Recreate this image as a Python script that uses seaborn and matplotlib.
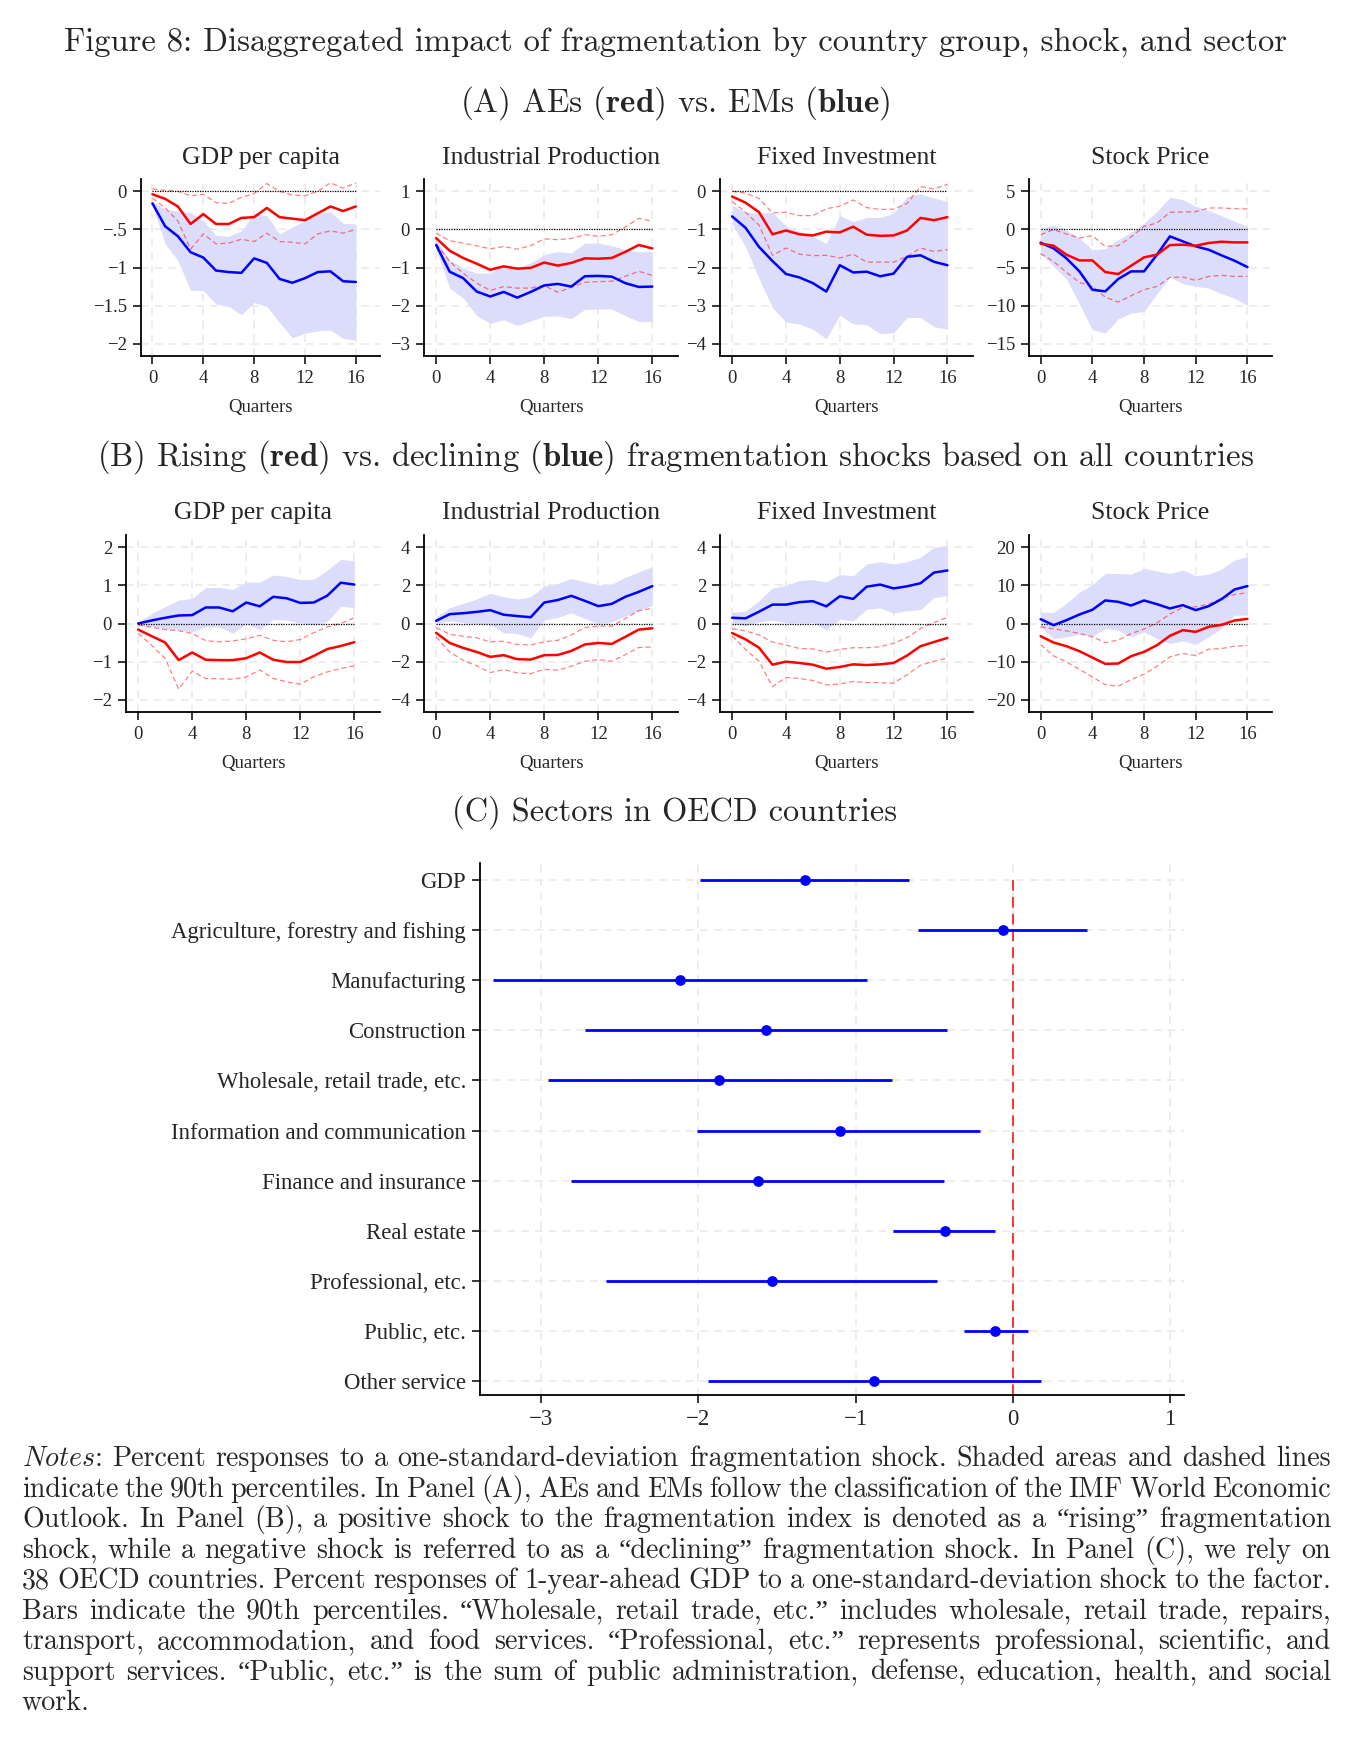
import numpy as np
import pandas as pd
import matplotlib
matplotlib.use("Agg")
import matplotlib.pyplot as plt
import seaborn as sns
from matplotlib.ticker import FuncFormatter

# ---------------- data ----------------
QUARTERS = np.arange(17)

# Panel A: AEs (red) vs EMs (blue)
a_gdp_red = [-0.04, -0.10, -0.20, -0.43, -0.30, -0.43, -0.43, -0.35, -0.34, -0.22, -0.34, -0.36, -0.38, -0.29, -0.20, -0.26, -0.20]
a_gdp_red_hi = [0.03, 0.01, 0.00, -0.06, -0.04, -0.15, -0.16, -0.08, -0.03, 0.10, 0.00, -0.05, -0.06, 0.00, 0.11, 0.04, 0.11]
a_gdp_red_lo = [-0.09, -0.22, -0.39, -0.76, -0.56, -0.69, -0.68, -0.63, -0.66, -0.55, -0.66, -0.67, -0.69, -0.56, -0.52, -0.55, -0.50]
a_gdp_blue = [-0.16, -0.46, -0.59, -0.80, -0.87, -1.04, -1.06, -1.07, -0.88, -0.94, -1.15, -1.20, -1.14, -1.06, -1.05, -1.18, -1.19]
a_gdp_blue_hi = [-0.13, -0.24, -0.26, -0.28, -0.39, -0.58, -0.59, -0.52, -0.29, -0.32, -0.56, -0.47, -0.39, -0.29, -0.27, -0.42, -0.43]
a_gdp_blue_lo = [-0.19, -0.69, -0.91, -1.30, -1.30, -1.48, -1.51, -1.62, -1.46, -1.51, -1.72, -1.92, -1.86, -1.83, -1.82, -1.93, -1.95]

a_ip_red = [-0.23, -0.56, -0.75, -0.90, -1.06, -0.97, -1.03, -1.01, -0.87, -0.95, -0.88, -0.76, -0.77, -0.75, -0.59, -0.41, -0.50]
a_ip_red_hi = [-0.10, -0.30, -0.36, -0.43, -0.51, -0.45, -0.52, -0.43, -0.25, -0.27, -0.24, -0.14, -0.18, -0.14, 0.06, 0.29, 0.21]
a_ip_red_lo = [-0.38, -0.84, -1.15, -1.41, -1.60, -1.50, -1.54, -1.54, -1.47, -1.65, -1.52, -1.39, -1.37, -1.36, -1.23, -1.10, -1.21]
a_ip_blue = [-0.41, -1.11, -1.28, -1.63, -1.76, -1.64, -1.79, -1.64, -1.47, -1.43, -1.50, -1.23, -1.22, -1.24, -1.41, -1.51, -1.50]
a_ip_blue_hi = [-0.27, -0.80, -1.01, -1.15, -1.15, -0.93, -1.01, -0.88, -0.66, -0.58, -0.62, -0.36, -0.36, -0.43, -0.53, -0.59, -0.58]
a_ip_blue_lo = [-0.53, -1.54, -1.80, -2.26, -2.46, -2.37, -2.52, -2.40, -2.28, -2.27, -2.34, -2.10, -2.09, -2.09, -2.26, -2.42, -2.42]

a_fi_red = [-0.14, -0.30, -0.55, -1.13, -1.03, -1.13, -1.16, -1.06, -1.08, -0.93, -1.14, -1.17, -1.16, -1.03, -0.70, -0.76, -0.68]
a_fi_red_hi = [0.00, -0.05, -0.19, -0.57, -0.55, -0.64, -0.64, -0.46, -0.39, -0.23, -0.43, -0.48, -0.47, -0.32, 0.12, 0.06, 0.18]
a_fi_red_lo = [-0.27, -0.55, -0.89, -1.68, -1.49, -1.65, -1.69, -1.68, -1.75, -1.65, -1.86, -1.86, -1.86, -1.71, -1.49, -1.58, -1.53]
a_fi_blue = [-0.66, -0.96, -1.46, -1.83, -2.17, -2.26, -2.41, -2.63, -1.94, -2.13, -2.11, -2.23, -2.16, -1.72, -1.68, -1.85, -1.94]
a_fi_blue_hi = [-0.37, -0.55, -0.58, -0.55, -0.92, -1.06, -1.19, -1.37, -0.64, -0.80, -0.69, -0.69, -0.58, -0.14, -0.07, -0.18, -0.27]
a_fi_blue_lo = [-0.85, -1.46, -2.29, -3.05, -3.43, -3.48, -3.62, -3.87, -3.25, -3.48, -3.50, -3.73, -3.71, -3.31, -3.31, -3.55, -3.62]

a_sp_red = [-1.88, -2.14, -3.32, -4.07, -4.07, -5.60, -5.86, -4.77, -3.67, -3.32, -2.06, -2.01, -2.14, -1.79, -1.62, -1.71, -1.71]
a_sp_red_hi = [-0.70, -0.04, -0.61, -1.14, -0.83, -2.23, -2.14, -1.00, 0.39, 0.83, 2.23, 2.27, 2.32, 2.80, 2.80, 2.71, 2.67]
a_sp_red_lo = [-3.19, -4.20, -5.64, -6.95, -7.48, -8.88, -9.53, -8.70, -7.91, -7.48, -6.30, -6.25, -6.69, -6.17, -6.03, -6.17, -6.17]
a_sp_blue = [-1.75, -2.49, -3.80, -5.51, -7.91, -8.13, -6.51, -5.51, -5.51, -3.32, -0.92, -1.57, -2.23, -2.67, -3.41, -4.11, -4.94]
a_sp_blue_hi = [0.17, 0.52, -0.13, -1.14, -2.67, -2.54, -1.36, -0.39, 0.83, 2.36, 4.20, 3.89, 3.02, 2.45, 1.79, 1.05, 0.39]
a_sp_blue_lo = [-3.10, -4.85, -6.51, -9.75, -13.16, -13.60, -11.72, -10.97, -10.76, -8.44, -6.25, -7.13, -7.48, -7.70, -8.44, -9.01, -9.97]

# Panel B: rising (red) vs declining (blue) shocks
b_gdp_red = [-0.16, -0.33, -0.50, -0.96, -0.76, -0.95, -0.96, -0.96, -0.91, -0.76, -0.95, -1.01, -1.01, -0.85, -0.67, -0.59, -0.49]
b_gdp_red_hi = [-0.04, -0.10, -0.16, -0.19, -0.26, -0.45, -0.48, -0.46, -0.40, -0.31, -0.44, -0.48, -0.42, -0.24, -0.09, 0.00, 0.15]
b_gdp_red_lo = [-0.26, -0.57, -0.92, -1.72, -1.25, -1.44, -1.45, -1.46, -1.40, -1.22, -1.44, -1.53, -1.59, -1.40, -1.27, -1.18, -1.11]
b_gdp_blue = [0.00, 0.08, 0.15, 0.21, 0.22, 0.42, 0.42, 0.32, 0.55, 0.45, 0.70, 0.66, 0.54, 0.55, 0.73, 1.07, 1.02]
b_gdp_blue_hi = [0.04, 0.26, 0.44, 0.61, 0.66, 0.94, 0.95, 0.89, 1.09, 1.08, 1.27, 1.23, 1.15, 1.16, 1.40, 1.68, 1.64]
b_gdp_blue_lo = [-0.04, -0.09, -0.13, -0.17, -0.22, -0.09, -0.09, -0.26, 0.00, -0.16, 0.11, 0.09, 0.02, -0.04, 0.06, 0.45, 0.42]

b_ip_red = [-0.49, -1.02, -1.28, -1.49, -1.75, -1.66, -1.87, -1.89, -1.66, -1.65, -1.44, -1.10, -1.02, -1.07, -0.70, -0.32, -0.25]
b_ip_red_hi = [-0.21, -0.56, -0.67, -0.75, -0.96, -0.93, -1.10, -1.12, -0.96, -0.88, -0.61, -0.21, -0.14, -0.14, 0.26, 0.67, 0.79]
b_ip_red_lo = [-0.70, -1.49, -1.93, -2.22, -2.57, -2.42, -2.59, -2.63, -2.40, -2.45, -2.24, -1.98, -1.89, -1.98, -1.63, -1.26, -1.23]
b_ip_blue = [0.14, 0.49, 0.54, 0.61, 0.70, 0.46, 0.39, 0.33, 1.10, 1.23, 1.45, 1.19, 0.91, 1.03, 1.40, 1.66, 1.96]
b_ip_blue_hi = [0.35, 0.82, 1.05, 1.28, 1.58, 1.40, 1.28, 1.40, 1.96, 2.10, 2.36, 2.19, 2.01, 2.07, 2.42, 2.70, 2.98]
b_ip_blue_lo = [0.00, 0.14, 0.05, 0.00, -0.04, -0.49, -0.53, -0.75, 0.18, 0.32, 0.56, 0.26, 0.00, 0.09, 0.39, 0.67, 0.96]

b_fi_red = [-0.50, -0.83, -1.27, -2.16, -2.00, -2.07, -2.16, -2.37, -2.28, -2.14, -2.18, -2.14, -2.07, -1.68, -1.19, -0.97, -0.76]
b_fi_red_hi = [-0.27, -0.39, -0.60, -0.97, -1.13, -1.31, -1.33, -1.50, -1.36, -1.27, -1.27, -1.22, -1.04, -0.74, -0.27, 0.05, 0.32]
b_fi_red_lo = [-0.65, -1.36, -1.98, -3.31, -2.83, -2.88, -2.99, -3.22, -3.17, -3.04, -3.10, -3.10, -3.13, -2.69, -2.19, -1.98, -1.81]
b_fi_blue = [0.30, 0.27, 0.62, 0.99, 0.99, 1.12, 1.17, 0.90, 1.43, 1.29, 1.93, 2.04, 1.84, 1.95, 2.11, 2.67, 2.78]
b_fi_blue_hi = [0.58, 0.65, 1.20, 1.86, 2.00, 2.25, 2.30, 2.18, 2.57, 2.50, 3.12, 3.24, 3.12, 3.24, 3.47, 4.00, 4.07]
b_fi_blue_lo = [0.00, -0.12, 0.09, 0.18, 0.05, 0.02, 0.05, -0.34, 0.23, 0.14, 0.76, 0.81, 0.55, 0.67, 0.73, 1.36, 1.47]

b_sp_red = [-3.32, -4.99, -5.95, -7.26, -8.92, -10.58, -10.50, -8.57, -7.44, -5.69, -3.24, -1.75, -2.19, -0.87, -0.35, 0.79, 1.22]
b_sp_red_hi = [-0.87, -1.40, -1.92, -2.62, -3.50, -4.99, -4.37, -2.62, -1.49, 0.17, 2.45, 4.20, 4.37, 5.07, 6.56, 7.61, 8.05]
b_sp_red_lo = [-5.51, -8.49, -10.06, -11.99, -14.00, -16.01, -16.45, -14.70, -13.30, -11.20, -8.75, -7.87, -8.40, -6.74, -6.56, -5.95, -5.77]
b_sp_blue = [1.14, -0.44, 0.87, 2.36, 3.59, 6.04, 5.69, 4.72, 6.04, 5.07, 3.94, 4.81, 3.50, 4.55, 6.39, 8.92, 9.80]
b_sp_blue_hi = [2.97, 2.89, 5.25, 8.22, 10.15, 13.12, 13.12, 12.95, 14.44, 13.74, 13.12, 14.00, 12.51, 12.95, 14.26, 16.62, 17.50]
b_sp_blue_lo = [-0.87, -3.94, -3.50, -2.80, -3.32, -1.31, -1.75, -3.50, -2.19, -3.94, -5.25, -4.55, -5.51, -3.50, -1.31, 2.19, 2.19]

PANEL_TITLES = ["GDP per capita", "Industrial Production", "Fixed Investment", "Stock Price"]
A_YTICKS = [[0, -0.5, -1, -1.5, -2], [1, 0, -1, -2, -3], [0, -1, -2, -3, -4], [5, 0, -5, -10, -15]]
B_YTICKS = [[2, 1, 0, -1, -2], [4, 2, 0, -2, -4], [4, 2, 0, -2, -4], [20, 10, 0, -10, -20]]
XTICKS = [0, 4, 8, 12, 16]

# Panel C: sectors in OECD countries
sectors = ["GDP", "Agriculture, forestry and fishing", "Manufacturing", "Construction",
           "Wholesale, retail trade, etc.", "Information and communication",
           "Finance and insurance", "Real estate", "Professional, etc.", "Public, etc.",
           "Other service"]
sector_est = [-1.32, -0.06, -2.12, -1.57, -1.87, -1.10, -1.62, -0.43, -1.53, -0.11, -0.88]
sector_lo = [-1.99, -0.60, -3.31, -2.72, -2.96, -2.01, -2.81, -0.76, -2.59, -0.31, -1.94]
sector_hi = [-0.66, 0.47, -0.93, -0.42, -0.77, -0.21, -0.44, -0.11, -0.48, 0.10, 0.18]

NOTES = [
    r"$\mathit{Notes}$: Percent responses to a one-standard-deviation fragmentation shock. Shaded areas and dashed lines",
    "indicate the 90th percentiles. In Panel (A), AEs and EMs follow the classification of the IMF World Economic",
    "Outlook. In Panel (B), a positive shock to the fragmentation index is denoted as a \u201crising\u201d fragmentation",
    "shock, while a negative shock is referred to as a \u201cdeclining\u201d fragmentation shock. In Panel (C), we rely on",
    "38 OECD countries. Percent responses of 1-year-ahead GDP to a one-standard-deviation shock to the factor.",
    "Bars indicate the 90th percentiles. \u201cWholesale, retail trade, etc.\u201d includes wholesale, retail trade, repairs,",
    "transport, accommodation, and food services. \u201cProfessional, etc.\u201d represents professional, scientific, and",
    "support services. \u201cPublic, etc.\u201d is the sum of public administration, defense, education, health, and social",
    "work.",
]

# ---------------- style ----------------
sns.set_style("white")
plt.rcParams["font.family"] = ["Liberation Serif", "DejaVu Serif"]
plt.rcParams["mathtext.fontset"] = "cm"
plt.rcParams["axes.unicode_minus"] = True
CMR = ["cmr10", "Liberation Serif"]

RED = "#ff0000"
BLUE = "#0000ff"
BAND = "#dcdcfb"
GRID = "#e8e8e8"

W, H = 1351, 1743
fig = plt.figure(figsize=(W / 100, H / 100), dpi=100)


def box(l, t, r, b):
    return fig.add_axes([l / W, 1 - b / H, (r - l) / W, (b - t) / H])


def ftext(x, y, s, **kw):
    return fig.text(x / W, 1 - y / H, s, **kw)


def stata_fmt(v, pos):
    s = f"{v:g}"
    if s.startswith("0."):
        s = s[1:]
    elif s.startswith("-0."):
        s = "-" + s[2:]
    return s.replace("-", "\u2212")


def style_axes(ax, labelsize):
    sns.despine(ax=ax)
    for side in ["left", "bottom"]:
        ax.spines[side].set_linewidth(1.3)
        ax.spines[side].set_color("black")
    ax.tick_params(direction="out", length=6, width=1.3, labelsize=labelsize,
                   left=True, bottom=True, pad=4)
    ax.grid(True, color=GRID, linestyle=(0, (5, 4)), linewidth=1.1)
    ax.set_axisbelow(True)


def irf_panel(ax, red, red_lo, red_hi, blue, blue_lo, blue_hi, yticks):
    ax.fill_between(QUARTERS, blue_lo, blue_hi, color=BAND, linewidth=0, zorder=1)
    for band in (red_lo, red_hi):
        sns.lineplot(x=QUARTERS, y=band, ax=ax, color=RED, alpha=0.5, linewidth=0.9,
                     linestyle=(0, (4, 2.5)), zorder=3)
    ax.plot([QUARTERS[0], QUARTERS[-1]], [0, 0], color="black", linestyle=(0, (1, 1)),
            linewidth=0.9, zorder=4)
    sns.lineplot(x=QUARTERS, y=blue, ax=ax, color=BLUE, linewidth=1.8, zorder=5)
    sns.lineplot(x=QUARTERS, y=red, ax=ax, color=RED, linewidth=1.8, zorder=6)
    style_axes(ax, 13.5)
    ax.set_xticks(XTICKS)
    ax.set_yticks(yticks)
    ax.yaxis.set_major_formatter(FuncFormatter(stata_fmt))
    pad = 0.08 * (max(yticks) - min(yticks))
    ax.set_ylim(min(yticks) - pad, max(yticks) + pad)
    ax.set_xlim(-0.9, 17.9)
    ax.set_xlabel("Quarters", fontsize=13.5, labelpad=9)
    ax.set_ylabel("")


# ---------------- titles ----------------
ftext(675, 42, "Figure 8: Disaggregated impact of fragmentation by country group, shock, and sector",
      family=CMR, fontsize=23.5, ha="center", va="center")
ftext(675, 103, r"(A) AEs ($\mathbf{red}$) vs. EMs ($\mathbf{blue}$)",
      family=CMR, fontsize=23.8, ha="center", va="center")
ftext(675, 457, r"(B) Rising ($\mathbf{red}$) vs. declining ($\mathbf{blue}$) fragmentation shocks based on all countries",
      family=CMR, fontsize=23.6, ha="center", va="center")
ftext(675, 812, "(C) Sectors in OECD countries",
      family=CMR, fontsize=23.4, ha="center", va="center")

# ---------------- panels A and B ----------------
a_series = [
    (a_gdp_red, a_gdp_red_lo, a_gdp_red_hi, a_gdp_blue, a_gdp_blue_lo, a_gdp_blue_hi),
    (a_ip_red, a_ip_red_lo, a_ip_red_hi, a_ip_blue, a_ip_blue_lo, a_ip_blue_hi),
    (a_fi_red, a_fi_red_lo, a_fi_red_hi, a_fi_blue, a_fi_blue_lo, a_fi_blue_hi),
    (a_sp_red, a_sp_red_lo, a_sp_red_hi, a_sp_blue, a_sp_blue_lo, a_sp_blue_hi),
]
b_series = [
    (b_gdp_red, b_gdp_red_lo, b_gdp_red_hi, b_gdp_blue, b_gdp_blue_lo, b_gdp_blue_hi),
    (b_ip_red, b_ip_red_lo, b_ip_red_hi, b_ip_blue, b_ip_blue_lo, b_ip_blue_hi),
    (b_fi_red, b_fi_red_lo, b_fi_red_hi, b_fi_blue, b_fi_blue_lo, b_fi_blue_hi),
    (b_sp_red, b_sp_red_lo, b_sp_red_hi, b_sp_blue, b_sp_blue_lo, b_sp_blue_hi),
]
a_x = [(141, 380), (424, 678), (720, 973), (1029, 1272)]
b_x = [(126, 380), (424, 678), (720, 973), (1029, 1272)]

for i in range(4):
    ax = box(a_x[i][0], 179, a_x[i][1], 356)
    irf_panel(ax, *a_series[i], A_YTICKS[i])
    ftext((a_x[i][0] + a_x[i][1]) / 2, 158, PANEL_TITLES[i], fontsize=18.5, ha="center", va="center")

    ax = box(b_x[i][0], 535, b_x[i][1], 712)
    irf_panel(ax, *b_series[i], B_YTICKS[i])
    ftext((b_x[i][0] + b_x[i][1]) / 2, 513, PANEL_TITLES[i], fontsize=18.5, ha="center", va="center")

# ---------------- panel C ----------------
axc = box(480, 863, 1184, 1395)
rows = np.arange(len(sectors))
sec = pd.DataFrame({"sector": sectors, "row": rows, "est": sector_est,
                    "lo": sector_lo, "hi": sector_hi})
axc.hlines(sec["row"], sec["lo"], sec["hi"], color=BLUE, linewidth=2.0, zorder=3)
sns.scatterplot(data=sec, x="est", y="row", ax=axc, color=BLUE, s=60, edgecolor=BLUE,
                linewidth=0, zorder=4)
style_axes(axc, 16.4)
axc.set_ylim(len(sectors) - 1 + 0.28, -0.34)
axc.set_xlim(-3.39, 1.09)
axc.set_xticks([-3, -2, -1, 0, 1])
axc.xaxis.set_major_formatter(FuncFormatter(stata_fmt))
axc.set_yticks(rows)
axc.set_yticklabels(sectors)
top_frac = (len(sectors) - 1 + 0.28) / (len(sectors) - 1 + 0.28 + 0.34)
axc.axvline(0, ymin=0, ymax=top_frac, color=RED, linewidth=1.1, linestyle=(0, (7, 4)), zorder=2)
axc.set_xlabel("")
axc.set_ylabel("")

# ---------------- notes (justified) ----------------
renderer = fig.canvas.get_renderer()
NOTE_LEFT, NOTE_RIGHT, NOTE_FS = 22, 1331, 20.2
for k, line in enumerate(NOTES):
    y = 1459 + 30.5 * k
    words = line.split(" ")
    objs = [ftext(0, y, w, family=CMR, fontsize=NOTE_FS, ha="left", va="center") for w in words]
    widths = [o.get_window_extent(renderer).width for o in objs]
    if k == len(NOTES) - 1 or len(words) == 1:
        gap = NOTE_FS * 100 / 72 * 0.333
    else:
        gap = (NOTE_RIGHT - NOTE_LEFT - sum(widths)) / (len(words) - 1)
    x = NOTE_LEFT
    for o, w in zip(objs, widths):
        o.set_position((x / W, 1 - y / H))
        x += w + gap

fig.savefig("out.png", dpi=100)
